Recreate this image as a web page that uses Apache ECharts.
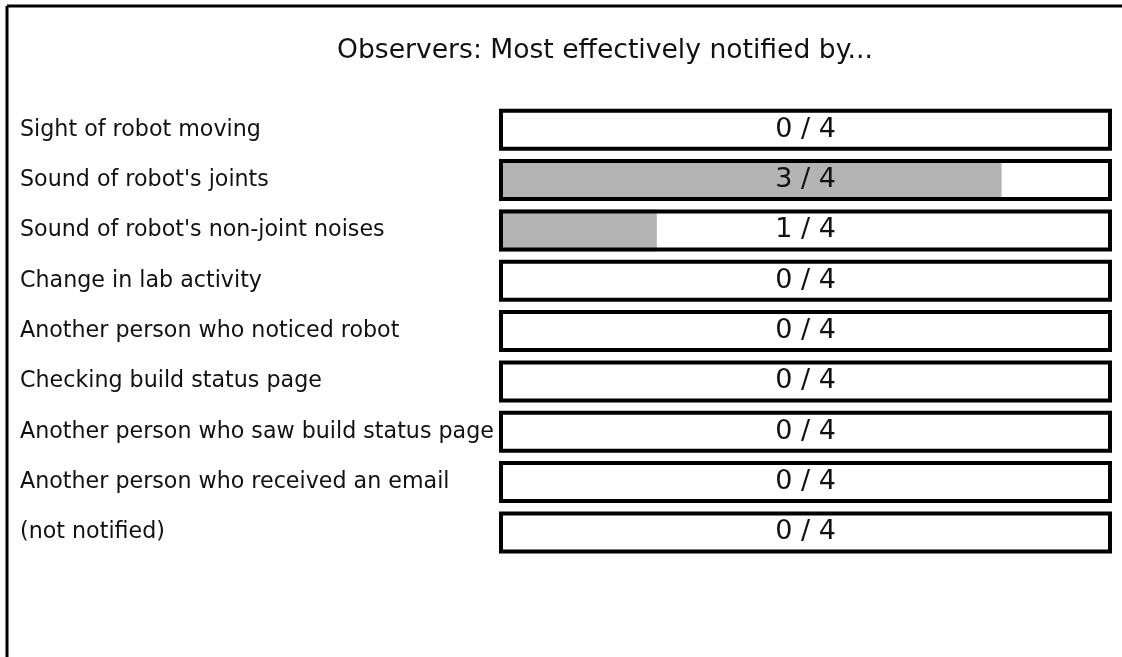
<!DOCTYPE html>
<html>
<head>
<meta charset="utf-8">
<script src="https://cdn.jsdelivr.net/npm/echarts@6/dist/echarts.min.js"></script>
<style>
html,body{margin:0;padding:0;background:#fff;}
#chart{width:1122px;height:657px;}
</style>
</head>
<body>
<div id="chart"></div>
<script>
var titleText = 'Observers: Most effectively notified by...';
var categories = [
  'Sight of robot moving',
  "Sound of robot's joints",
  "Sound of robot's non-joint noises",
  'Change in lab activity',
  'Another person who noticed robot',
  'Checking build status page',
  'Another person who saw build status page',
  'Another person who received an email',
  '(not notified)'
];
var counts = [0, 3, 1, 0, 0, 0, 0, 0, 0];
var totals = [4, 4, 4, 4, 4, 4, 4, 4, 4];
// gray fill lengths as drawn in the picture (in responses, out of 4)
var filled = [0, 3.28, 1.03, 0, 0, 0, 0, 0, 0];

var FONT = '"DejaVu Sans", Verdana, sans-serif';
var chart = echarts.init(document.getElementById('chart'));
var option = {
  backgroundColor: '#ffffff',
  animation: false,
  title: {
    text: titleText,
    left: 600, top: 33, textAlign: 'center',
    textStyle: {fontFamily: FONT, fontSize: 26.6, fontWeight: 'normal', color: '#111'}
  },
  grid: {left: 499, right: 10, top: 104.6, bottom: 99.4},
  xAxis: {type: 'value', min: 0, max: 4, show: false},
  yAxis: {
    type: 'category', data: categories, inverse: true,
    axisLine: {show: false}, axisTick: {show: false},
    axisLabel: {align: 'left', margin: 479, fontFamily: FONT, fontSize: 22.2, color: '#111'}
  },
  graphic: [
    {type: 'line', shape: {x1: 7, y1: 6, x2: 1122, y2: 6}, style: {stroke: '#000', lineWidth: 3}},
    {type: 'line', shape: {x1: 7, y1: 6, x2: 7, y2: 657}, style: {stroke: '#000', lineWidth: 3}}
  ],
  series: [
    {
      type: 'bar', data: filled, barWidth: 42, z: 1,
      itemStyle: {color: '#b4b4b4'}, silent: true
    },
    {
      type: 'bar', data: totals, barWidth: 42, barGap: '-100%', z: 2,
      itemStyle: {color: 'rgba(0,0,0,0)', borderColor: '#000', borderWidth: 4},
      label: {
        show: true, position: 'inside',
        formatter: function (p) { return counts[p.dataIndex] + ' / ' + totals[p.dataIndex]; },
        fontFamily: FONT, fontSize: 27, color: '#111'
      }
    }
  ]
};
chart.setOption(option);
</script>
</body>
</html>
